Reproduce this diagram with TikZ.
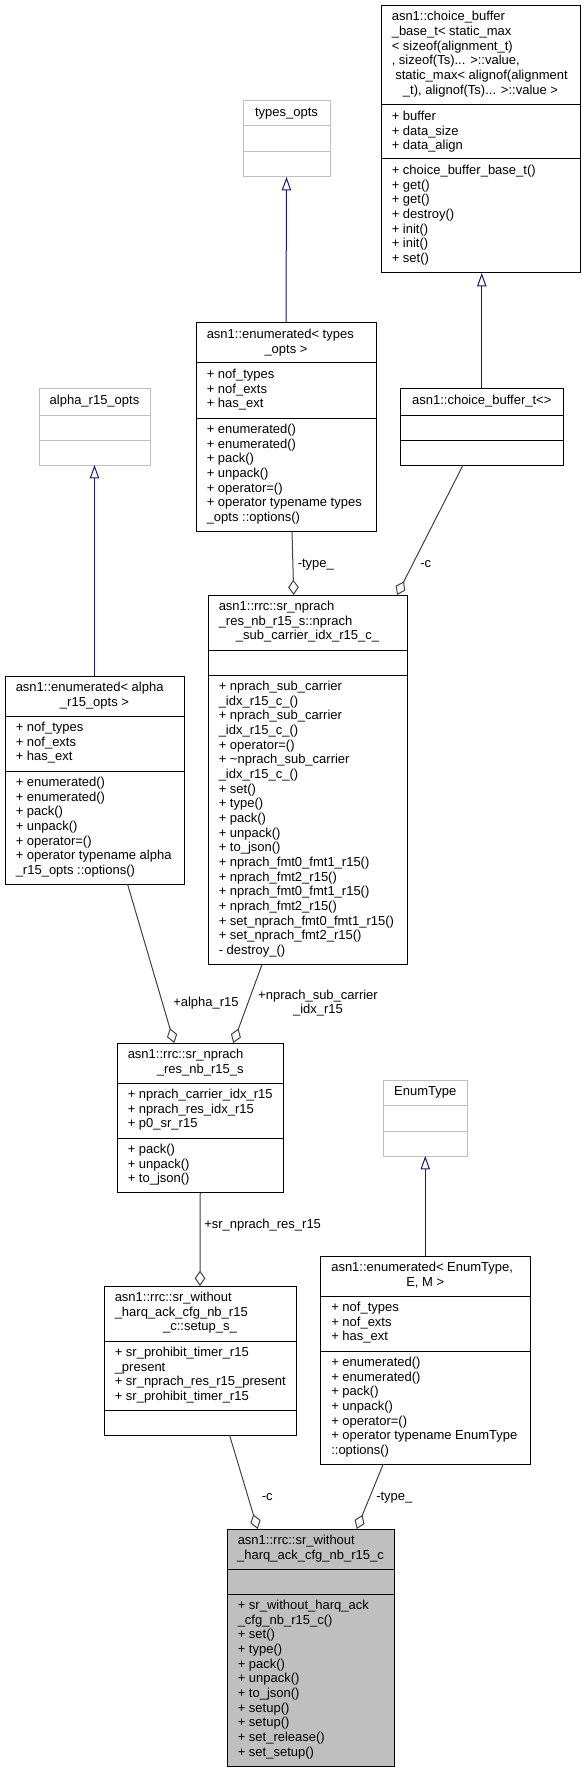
\documentclass[tikz,border=0pt]{standalone}
\usepackage{fontspec}
\setmainfont{Liberation Sans}
\usetikzlibrary{arrows.meta,calc,fit}
\definecolor{gLight}{HTML}{BFBFBF}
\definecolor{gDark}{HTML}{404040}
\definecolor{mBlue}{HTML}{191970}
\newcommand\dxf{\fontsize{9.75pt}{11pt}\selectfont}
\tikzset{
  cls/.style={draw=black,line width=0.75pt,fill=white,inner sep=0pt,outer sep=0pt},
  extcls/.style={cls,draw=gLight},
  mainc/.style={cls,fill=gLight},
  hl/.style={draw=black,line width=0.75pt},
  hlext/.style={draw=gLight,line width=0.75pt},
  tl/.style={inner sep=0pt,anchor=base west,align=left,font=\dxf},
  tc/.style={inner sep=0pt,anchor=base,font=\dxf},
  inh/.style={draw=mBlue,line width=0.75pt,-{Triangle[open,length=10pt,width=7pt]}},
  agg/.style={draw=gDark,line width=0.75pt,-{Diamond[open,length=11.5pt,width=8pt]}},
  elab/.style={inner sep=0pt,font=\dxf,anchor=base west},
}
\begin{document}
\begin{tikzpicture}[x=0.75pt,y=-0.75pt]
\useasboundingbox (0,0) rectangle (585,1772);
% (multi-line text nodes are placed by the baseline of their LAST line)

% choice_buffer_base_t
\node[cls,fit={(381,5.5)(580,273)}] (cbb) {};
\draw[hl] (381,105) -- (580,105);
\draw[hl] (381,159) -- (580,159);
\node[tl] (cbbH) at (391.5,79.67) {asn1::choice\_buffer\\\_base\_t< static\_max\\< sizeof(alignment\_t)\\, sizeof(Ts)... >::value,\\\hspace*{2.7pt}static\_max< alignof(alignment};
\node[tc] (cbbH2) at (480.5,94.4) {\_t), alignof(Ts)... >::value >};
\node[tl] (cbbA) at (391.5,149.83) {+ buffer\\+ data\_size\\+ data\_align};
\node[tl] (cbbM) at (391.5,262.5) {+ choice\_buffer\_base\_t()\\+ get()\\+ get()\\+ destroy()\\+ init()\\+ init()\\+ set()};

% types_opts
\node[extcls,fit={(243,101)(330,177)}] (topts) {};
\draw[hlext] (243,126) -- (330,126);
\draw[hlext] (243,152) -- (330,152);
\node[tc] (toptsH) at (286.5,116.5) {types\_opts};

% enumerated<types_opts>
\node[cls,fit={(196,323)(376,531)}] (enumT) {};
\draw[hl] (196,363) -- (376,363);
\draw[hl] (196,418) -- (376,418);
\node[tl] (enumTH) at (206.5,338.5) {asn1::enumerated< types};
\node[tc] (enumTH2) at (286,353.2) {\_opts >};
\node[tl] (enumTA) at (206.5,407.83) {+ nof\_types\\+ nof\_exts\\+ has\_ext};
\node[tl] (enumTM) at (206.5,521.5) {+ enumerated()\\+ enumerated()\\+ pack()\\+ unpack()\\+ operator=()\\+ operator typename types\\\_opts ::options()};

% alpha_r15_opts
\node[extcls,fit={(39,389)(150,465)}] (aopts) {};
\draw[hlext] (39,415) -- (150,415);
\draw[hlext] (39,440) -- (150,440);
\node[tc] (aoptsH) at (94.5,404.5) {alpha\_r15\_opts};

% choice_buffer_t<>
\node[cls,fit={(400,389)(563.5,465)}] (cbt) {};
\draw[hl] (400,415) -- (563.5,415);
\draw[hl] (400,440) -- (563.5,440);
\node[tc] (cbtH) at (481.75,404.5) {asn1::choice\_buffer\_t<>};

% nprach_sub_carrier_idx_r15_c_
\node[cls,fit={(208,595)(407,964.5)}] (npr) {};
\draw[hl] (208,650) -- (407,650);
\draw[hl] (208,675) -- (407,675);
\node[tl] (nprH) at (218.5,625.17) {asn1::rrc::sr\_nprach\\\_res\_nb\_r15\_s::nprach};
\node[tc] (nprH2) at (307.5,639.8) {\_sub\_carrier\_idx\_r15\_c\_};
\node[tl] (nprM) at (218.5,954.5) {+ nprach\_sub\_carrier\\\_idx\_r15\_c\_()\\+ nprach\_sub\_carrier\\\_idx\_r15\_c\_()\\+ operator=()\\+ \textasciitilde nprach\_sub\_carrier\\\_idx\_r15\_c\_()\\+ set()\\+ type()\\+ pack()\\+ unpack()\\+ to\_json()\\+ nprach\_fmt0\_fmt1\_r15()\\+ nprach\_fmt2\_r15()\\+ nprach\_fmt0\_fmt1\_r15()\\+ nprach\_fmt2\_r15()\\+ set\_nprach\_fmt0\_fmt1\_r15()\\+ set\_nprach\_fmt2\_r15()\\- destroy\_()};

% enumerated<alpha_r15_opts>
\node[cls,fit={(5,676)(184,884)}] (enumA) {};
\draw[hl] (5,716) -- (184,716);
\draw[hl] (5,771) -- (184,771);
\node[tl] (enumAH) at (15.5,691.5) {asn1::enumerated< alpha};
\node[tc] (enumAH2) at (94.5,706.2) {\_r15\_opts >};
\node[tl] (enumAA) at (15.5,760.83) {+ nof\_types\\+ nof\_exts\\+ has\_ext};
\node[tl] (enumAM) at (15.5,874.5) {+ enumerated()\\+ enumerated()\\+ pack()\\+ unpack()\\+ operator=()\\+ operator typename alpha\\\_r15\_opts ::options()};

% sr_nprach_res_nb_r15_s
\node[cls,fit={(117,1043)(283.5,1192.5)}] (res) {};
\draw[hl] (117,1083) -- (283.5,1083);
\draw[hl] (117,1138) -- (283.5,1138);
\node[tl] (resH) at (127.5,1058.5) {asn1::rrc::sr\_nprach};
\node[tc] (resH2) at (200.25,1073.2) {\_res\_nb\_r15\_s};
\node[tl] (resA) at (127.5,1127.83) {+ nprach\_carrier\_idx\_r15\\+ nprach\_res\_idx\_r15\\+ p0\_sr\_r15};
\node[tl] (resM) at (127.5,1182.83) {+ pack()\\+ unpack()\\+ to\_json()};

% EnumType
\node[extcls,fit={(383,1080)(467.5,1156)}] (etype) {};
\draw[hlext] (383,1105) -- (467.5,1105);
\draw[hlext] (383,1131) -- (467.5,1131);
\node[tc] (etypeH) at (425.25,1095.5) {EnumType};

% enumerated<EnumType, E, M>
\node[cls,fit={(320.5,1256)(530,1464)}] (enumE) {};
\draw[hl] (320.5,1296) -- (530,1296);
\draw[hl] (320.5,1351) -- (530,1351);
\node[tl] (enumEH) at (331,1271.5) {asn1::enumerated< EnumType,};
\node[tc] (enumEH2) at (425.25,1286.2) {E, M >};
\node[tl] (enumEA) at (331,1340.83) {+ nof\_types\\+ nof\_exts\\+ has\_ext};
\node[tl] (enumEM) at (331,1454.5) {+ enumerated()\\+ enumerated()\\+ pack()\\+ unpack()\\+ operator=()\\+ operator typename EnumType\\::options()};

% setup_s_
\node[cls,fit={(104,1286)(296,1435)}] (setup) {};
\draw[hl] (104,1341) -- (296,1341);
\draw[hl] (104,1410.5) -- (296,1410.5);
\node[tl] (setupH) at (114.5,1316.17) {asn1::rrc::sr\_without\\\_harq\_ack\_cfg\_nb\_r15};
\node[tc] (setupH2) at (200,1330.8) {\_c::setup\_s\_};
\node[tl] (setupA) at (114.5,1400.5) {+ sr\_prohibit\_timer\_r15\\\_present\\+ sr\_nprach\_res\_r15\_present\\+ sr\_prohibit\_timer\_r15};

% main class
\node[mainc,fit={(227,1529)(394,1766)}] (main) {};
\draw[hl] (227,1569) -- (394,1569);
\draw[hl] (227,1594) -- (394,1594);
\node[tl] (mainH) at (237.5,1544.5) {asn1::rrc::sr\_without};
\node[tc] (mainH2) at (310.5,1559.2) {\_harq\_ack\_cfg\_nb\_r15\_c};
\node[tl] (mainM) at (237.5,1756.17) {+ sr\_without\_harq\_ack\\\_cfg\_nb\_r15\_c()\\+ set()\\+ type()\\+ pack()\\+ unpack()\\+ to\_json()\\+ setup()\\+ setup()\\+ set\_release()\\+ set\_setup()};

% inheritance
\draw[inh] (enumT.north) -- (topts.south);
\draw[inh] (enumA.north) -- (aopts.south);
\draw[inh] (cbt.north) -- (cbt.north |- cbb.south);
\draw[inh] (enumE.north) -- (etype.south);

% aggregation
\draw[agg] ($(enumT.south)+(6,0)$) -- ($(npr.north)+(-13.8,0)$);
\draw[agg] ($(cbt.south)+(-18.7,0)$) -- ($(npr.north)+(89.5,0)$);
\draw[agg] ($(enumA.south)+(33,0)$) -- ($(res.north)+(-26,0)$);
\draw[agg] ($(npr.south)+(-45.5,0)$) -- ($(res.north)+(33,0)$);
\draw[agg] (res.south) -- (setup.north);
\draw[agg] ($(setup.south)+(29.5,0)$) -- ($(main.north)+(-52.8,0)$);
\draw[agg] ($(enumE.south)+(-42,0)$) -- ($(main.north)+(46.2,0)$);

% edge labels
\node[elab] (l1) at (297.5,567) {-type\_};
\node[elab] (l2) at (420,567) {-c};
\node[elab] (l3) at (173,1006.5) {+alpha\_r15};
\node[elab,align=center,anchor=base] (l4) at (318,1013.67) {+nprach\_sub\_carrier\\\_idx\_r15};
\node[elab] (l5) at (204,1228) {+sr\_nprach\_res\_r15};
\node[elab] (l6) at (261.5,1500) {-c};
\node[elab] (l7) at (376,1500) {-type\_};
\end{tikzpicture}
\end{document}
